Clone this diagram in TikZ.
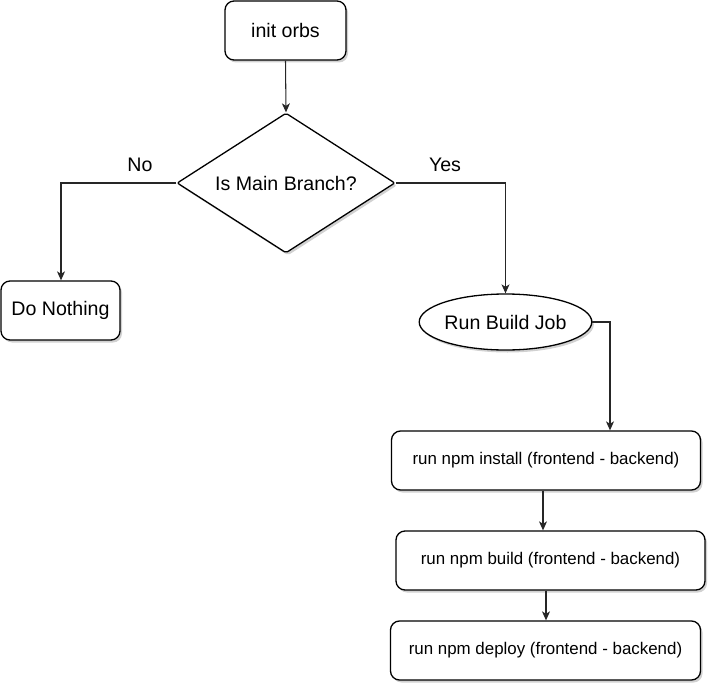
\documentclass[tikz,border=0pt]{standalone}
\usepackage{fontspec}
\setmainfont{Liberation Sans}
\usetikzlibrary{shapes.geometric,arrows.meta,shadows}
\tikzset{
  shade/.style={drop shadow={shadow xshift=2pt,shadow yshift=-2.5pt,opacity=0.18,fill=black}},
  bigtxt/.style={font=\fontsize{19.6}{23}\selectfont},
  smalltxt/.style={font=\fontsize{16.9}{20}\selectfont},
  rbox/.style={draw=black,line width=1.3pt,fill=white,rounded corners=9pt,inner sep=0pt,shade},
  dia/.style={draw=black,line width=1.3pt,fill=white,diamond,aspect=1.557,minimum width=218pt,minimum height=140pt,inner sep=0pt,rounded corners=2pt,shade,bigtxt},
  ell/.style={draw=black,line width=1.3pt,fill=white,ellipse,minimum width=171pt,minimum height=56pt,inner sep=0pt,shade,bigtxt},
  conn/.style={draw=black!85,line width=1.05pt},
  arr/.style={conn,-{Stealth[length=9pt,width=8pt,inset=2.5pt]}},
  lbl/.style={bigtxt,text=black}
}
\begin{document}
\begin{tikzpicture}[x=1pt,y=-1pt]
\useasboundingbox (0,0) rectangle (718,693);
\node[rbox,bigtxt,minimum width=121pt,minimum height=59pt] (init) at (285.5,30.5) {init orbs};
\node[dia] (dec) at (286,183) {Is Main Branch?};
\node[rbox,bigtxt,minimum width=119pt,minimum height=59pt] (none) at (60.5,310.5) {\raisebox{-2pt}{Do Nothing}};
\node[ell] (run) at (505.5,322) {Run Build Job};
\node[rbox,smalltxt,minimum width=309pt,minimum height=59pt] (ins) at (546,460.5) {run npm install (frontend - backend)};
\node[rbox,smalltxt,minimum width=309pt,minimum height=59pt] (bld) at (550.5,560.5) {run npm build (frontend - backend)};
\node[rbox,smalltxt,minimum width=310pt,minimum height=59pt] (dep) at (545.5,650.5) {run npm deploy (frontend - backend)};
\coordinate (cx1) at (610,0);
\coordinate (cx2) at (543,0);
\coordinate (cx3) at (546,0);
\coordinate (cx4) at (61,0);
\coordinate (cx5) at (505.5,0);
\draw[arr] (init.south) -- (dec.north);
\draw[arr] (dec.west) -| (none.north -| cx4);
\draw[arr] (dec.east) -| (run.north -| cx5);
\draw[arr] (run.east) -| (ins.north -| cx1);
\draw[arr] (ins.south -| cx2) -- (bld.north -| cx2);
\draw[arr] (bld.south -| cx3) -- (dep.north -| cx3);
\node[lbl] (no) at (140,165) {No};
\node[lbl] (yes) at (445,165) {Yes};
\end{tikzpicture}
\end{document}
